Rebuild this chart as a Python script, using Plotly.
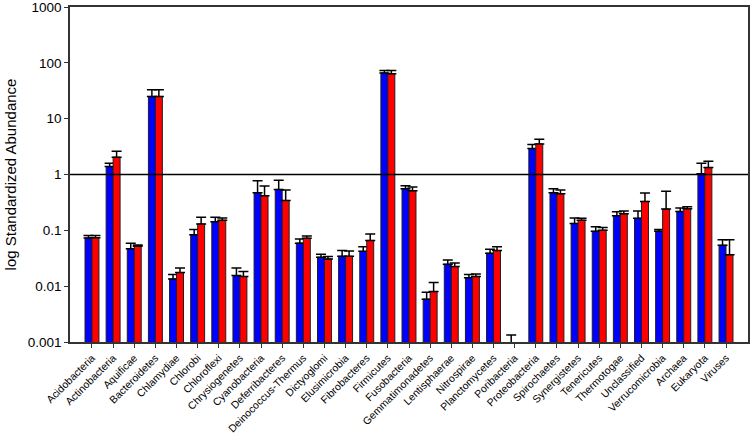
import plotly.graph_objects as go

categories = ["Acidobacteria", "Actinobacteria", "Aquificae", "Bacteroidetes", "Chlamydiae",
              "Chlorobi", "Chloroflexi", "Chrysiogenetes", "Cyanobacteria", "Deferribacteres",
              "Deinococcus-Thermus", "Dictyoglomi", "Elusimicrobia", "Fibrobacteres", "Firmicutes",
              "Fusobacteria", "Gemmatimonadetes", "Lentisphaerae", "Nitrospirae", "Planctomycetes",
              "Poribacteria", "Proteobacteria", "Spirochaetes", "Synergistetes", "Tenericutes",
              "Thermotogae", "Unclassified", "Verrucomicrobia", "Archaea", "Eukaryota", "Viruses"]

blue_vals = [0.073, 1.39, 0.047, 25.0, 0.0135, 0.0837, 0.143, 0.0155, 0.471, 0.54,
             0.059, 0.033, 0.0343, 0.042, 66.0, 0.555, 0.00586, 0.0247, 0.0141, 0.0388,
             0.0009, 2.91, 0.471, 0.133, 0.096, 0.183, 0.164, 0.096, 0.218, 1.03, 0.054]
blue_top = [0.081, 1.59, 0.0586, 33.0, 0.0162, 0.104, 0.171, 0.0212, 0.77, 0.79,
            0.070, 0.0373, 0.0434, 0.051, 73.0, 0.628, 0.00781, 0.0295, 0.0162, 0.0458,
            0.00133, 3.43, 0.555, 0.166, 0.116, 0.215, 0.221, 0.104, 0.25, 1.59, 0.068]

red_vals = [0.074, 2.04, 0.0518, 25.0, 0.0175, 0.130, 0.151, 0.0149, 0.416, 0.343,
            0.072, 0.0307, 0.0343, 0.066, 63.6, 0.511, 0.0080, 0.0224, 0.0149, 0.0434,
            None, 3.53, 0.452, 0.151, 0.100, 0.199, 0.33, 0.240, 0.244, 1.33, 0.0367]
red_top = [0.081, 2.61, 0.0547, 33.0, 0.0212, 0.171, 0.167, 0.0183, 0.62, 0.53,
           0.079, 0.0339, 0.0427, 0.086, 73.0, 0.60, 0.0116, 0.0261, 0.0166, 0.051,
           None, 4.27, 0.525, 0.164, 0.112, 0.221, 0.465, 0.50, 0.265, 1.73, 0.068]

y_tickvals = [0.001, 0.01, 0.1, 1, 10, 100, 1000]
y_ticktext = ["0.001", "0.01", "0.1", "1", "10", "100", "1000"]


def err(vals, tops):
    return [(t - v) if (t is not None and v is not None) else 0 for v, t in zip(vals, tops)]


fig = go.Figure()
fig.add_trace(go.Bar(
    x=categories, y=blue_vals, name="A",
    marker=dict(color="#0000ff", line=dict(color="#202020", width=1)),
    error_y=dict(type="data", symmetric=False, array=err(blue_vals, blue_top),
                 arrayminus=[0] * len(blue_vals), color="black", thickness=1.5, width=5),
))
fig.add_trace(go.Bar(
    x=categories, y=red_vals, name="B",
    marker=dict(color="#ff0000", line=dict(color="#202020", width=1)),
    error_y=dict(type="data", symmetric=False, array=err(red_vals, red_top),
                 arrayminus=[0] * len(red_vals), color="black", thickness=1.5, width=5),
))

fig.add_hline(y=1, line=dict(color="black", width=1.5))

fig.update_layout(
    width=750, height=435,
    margin=dict(l=70, r=2, t=7, b=93),
    plot_bgcolor="white", paper_bgcolor="white",
    barmode="group", bargap=0.34, bargroupgap=0,
    showlegend=False,
    font=dict(family="Liberation Sans, Arial, sans-serif", color="black"),
)
fig.update_xaxes(
    type="category", range=[-1.04, len(categories) - 1 + 1.04],
    showline=True, linecolor="#333333", linewidth=1.5, mirror=True,
    ticks="outside", ticklen=4, tickcolor="#333333",
    tickangle=-45, tickfont=dict(size=10.5, family="Liberation Sans, Arial, sans-serif"),
    showgrid=False, automargin=False, ticklabeloverflow="allow",
)
fig.update_yaxes(
    type="log", range=[-3, 3],
    tickvals=y_tickvals, ticktext=y_ticktext,
    showline=True, linecolor="#333333", linewidth=1.5, mirror=True,
    ticks="outside", ticklen=4, tickcolor="#333333",
    tickfont=dict(size=13.5),
    showgrid=False, zeroline=False, automargin=False, ticklabeloverflow="allow",
    title=dict(text="log Standardized Abundance", font=dict(size=15), standoff=8),
)

fig.write_html("out.html", config={"displayModeBar": False},
               post_script="document.body.style.margin='0';document.body.style.overflow='hidden';")
